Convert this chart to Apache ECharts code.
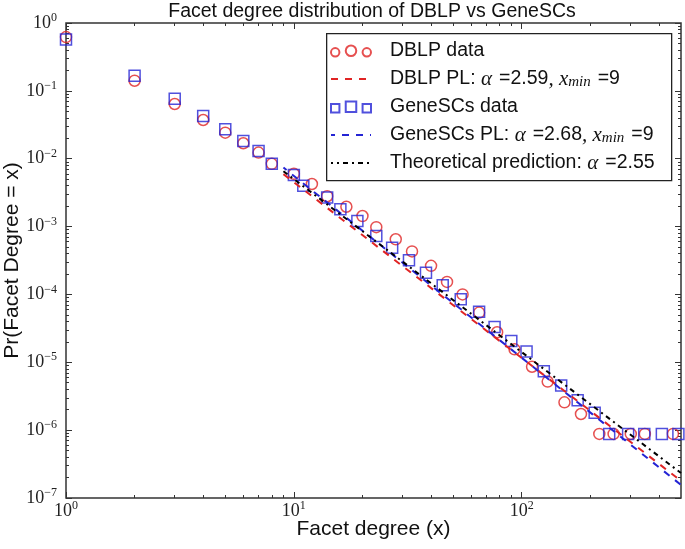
<!DOCTYPE html>
<html>
<head>
<meta charset="utf-8">
<script src="https://cdn.jsdelivr.net/npm/echarts@6/dist/echarts.min.js"></script>
<style>html,body{margin:0;padding:0;background:#fff}#c{width:685px;height:549px}</style>
</head>
<body>
<div id="c"></div>
<script>
// ---- data ----
var dblpX = [1,2,3,4,5,6,7,8,10,12,14,17,20,23,28,33,40,47,55,65,78,93,111,130,154,182,219,253,301,347,461];
var dblpY = [0.62,0.141,0.064,0.0372,0.0242,0.0169,0.0123,0.0084,0.0060,0.00424,0.0028,0.00196,0.00143,0.00098,0.00065,0.00043,0.000264,0.000153,0.0001,5.4e-5,2.77e-5,1.55e-5,8.6e-6,5.2e-6,2.57e-6,1.73e-6,8.8e-7,8.8e-7,8.8e-7,8.8e-7,8.8e-7];
var geneX = [1,2,3,4,5,6,7,8,10,11,14,16,19,23,27,32,38,45,54,65,76,90,105,125,149,176,209,242,293,345,412,487];
var geneY = [0.57,0.167,0.0767,0.0426,0.0271,0.0182,0.0130,0.00845,0.00575,0.00401,0.00268,0.0018,0.00121,0.000726,0.000489,0.000318,0.000209,0.000136,8.5e-5,5.57e-5,3.31e-5,2.06e-5,1.44e-5,7.4e-6,4.55e-6,2.75e-6,1.81e-6,8.8e-7,8.8e-7,8.8e-7,8.8e-7,8.8e-7];
var dblpPLX = [9, 500];
var dblpPLY = [0.00592, 1.79e-7];
var genePLX = [9, 500];
var genePLY = [0.0074, 1.56e-7];
var theoryX = [9, 500];
var theoryY = [0.00655, 2.33e-7];

var xMajorTicks = [1, 10, 100];
var xMinorTicks = [2,3,4,5,6,7,8,9,20,30,40,50,60,70,80,90,200,300,400];
var yMajorTicks = [1e-7,1e-6,1e-5,1e-4,1e-3,1e-2,1e-1,1];
var yDecades = [1e-7,1e-6,1e-5,1e-4,1e-3,1e-2,1e-1];
var minorMultipliers = [2,3,4,5,6,7,8,9];
var yMinorTicks = [];
yDecades.forEach(function(d){ minorMultipliers.forEach(function(m){ yMinorTicks.push(+(m*d).toPrecision(3)); }); });

var legendLabels = {
  'DBLP data': 'DBLP data',
  'DBLP PL': 'DBLP PL: {m|α}{g|}={n|2.59}{m|, x}{s|min}{g|}=9',
  'GeneSCs data': 'GeneSCs data',
  'GeneSCs PL': 'GeneSCs PL: {m|α}{g|}={n|2.68}{m|, x}{s|min}{g|}=9',
  'Theoretical': 'Theoretical prediction: {m|α}{g|}=2.55'
};

// ---- styles ----
var RED = '#e02424', BLUE = '#2424d4', AX = '#333';
var SANS = 'Liberation Sans', SERIF = 'Liberation Serif';

function pairs(xs, ys){ return xs.map(function(x,i){ return [x, ys[i]]; }); }
function expLabel(v){
  var e = Math.round(Math.log(v)/Math.LN10);
  return '{b|10}{s|' + (e < 0 ? '\u2212' + (-e) : e) + '}';
}
var tickRich = {
  b: {fontFamily: SERIF, fontSize: 18, color: '#222', lineHeight: 22},
  s: {fontFamily: SERIF, fontSize: 12, color: '#222', verticalAlign: 'top', lineHeight: 12}
};

function xAxisDef(pos, major, showLabel){
  return {
    type: 'log', logBase: 10, min: 1, max: 500, position: pos, gridIndex: 0,
    axisLine: {show: false}, splitLine: {show: false},
    axisTick: {show: true, inside: true, length: major ? 6 : 3,
               customValues: major ? xMajorTicks : xMinorTicks,
               lineStyle: {color: AX, width: 1}},
    axisLabel: showLabel ? {show: true, customValues: xMajorTicks, formatter: expLabel,
               rich: tickRich, margin: 2} : {show: false},
    name: showLabel ? 'Facet degree (x)' : '',
    nameLocation: 'middle', nameGap: 21, nameMoveOverlap: false,
    nameTextStyle: {fontFamily: SANS, fontSize: 21, color: '#111'}
  };
}
function yAxisDef(pos, major, showLabel){
  return {
    type: 'log', logBase: 10, min: 1e-7, max: 1, position: pos, gridIndex: 0,
    axisLine: {show: false}, splitLine: {show: false},
    axisTick: {show: true, inside: true, length: major ? 6 : 3,
               customValues: major ? yMajorTicks : yMinorTicks,
               lineStyle: {color: AX, width: 1}},
    axisLabel: showLabel ? {show: true, customValues: yMajorTicks, formatter: expLabel,
               rich: tickRich, margin: 9} : {show: false},
    name: showLabel ? 'Pr(Facet Degree = x)' : '',
    nameLocation: 'middle', nameGap: 43, nameMoveOverlap: false,
    nameTextStyle: {fontFamily: SANS, fontSize: 21, color: '#111'}
  };
}

var circlesIcon = 'path://M9,8C9,10.21 7.21,12 5,12C2.79,12 1,10.21 1,8C1,5.79 2.79,4 5,4C7.21,4 9,5.79 9,8Z' +
  'M25,6.5C25,9.26 22.76,11.5 20,11.5C17.24,11.5 15,9.26 15,6.5C15,3.74 17.24,1.5 20,1.5C22.76,1.5 25,3.74 25,6.5Z' +
  'M39,8C39,10.21 37.21,12 35,12C32.79,12 31,10.21 31,8C31,5.79 32.79,4 35,4C37.21,4 39,5.79 39,8Z';
var squaresIcon = 'path://M1,4L9,4L9,12L1,12Z M15,1.5L25,1.5L25,11.5L15,11.5Z M31,4L39,4L39,12L31,12Z';
var hideSym = {opacity: 0};

var chart = echarts.init(document.getElementById('c'), null, {renderer: 'canvas'});
chart.setOption({
  animation: false,
  backgroundColor: '#fff',
  title: {
    text: 'Facet degree distribution of DBLP vs GeneSCs',
    left: 372, top: 2, padding: 0, textAlign: 'center',
    textStyle: {fontFamily: SANS, fontSize: 19.5, fontWeight: 'normal', color: '#111'}
  },
  grid: {left: 66, top: 23, right: 4, bottom: 51, outerBoundsMode: 'none', containLabel: false,
         show: true, borderColor: AX, borderWidth: 1.5, backgroundColor: 'transparent'},
  xAxis: [xAxisDef('bottom', true, true), xAxisDef('bottom', false, false), xAxisDef('top', true, false), xAxisDef('top', false, false)],
  yAxis: [yAxisDef('left', true, true), yAxisDef('left', false, false), yAxisDef('right', true, false), yAxisDef('right', false, false)],
  // legend frame (decoration only)
  graphic: [{
    type: 'rect', left: 326, top: 33, z: 5,
    shape: {width: 345, height: 147},
    style: {fill: '#fff', stroke: '#222', lineWidth: 1.3}
  }],
  legend: {
    orient: 'vertical', left: 326, top: 33, padding: [7, 10, 6, 4], itemGap: 6,
    itemWidth: 40, itemHeight: 14, z: 6,
    borderWidth: 0, backgroundColor: 'transparent',
    data: [
      {name: 'DBLP data', icon: circlesIcon},
      {name: 'DBLP PL', itemStyle: hideSym},
      {name: 'GeneSCs data', icon: squaresIcon},
      {name: 'GeneSCs PL', itemStyle: hideSym},
      {name: 'Theoretical', itemStyle: hideSym}
    ],
    formatter: function(n){ return '{p|}' + legendLabels[n]; },
    textStyle: {
      fontFamily: SANS, fontSize: 19.5, color: '#111', lineHeight: 22,
      rich: {
        p: {width: 14, lineHeight: 22},
        g: {width: 7, lineHeight: 22},
        n: {fontFamily: SANS, fontSize: 19.5, color: '#111', lineHeight: 22},
        m: {fontFamily: SERIF, fontStyle: 'italic', fontSize: 21, color: '#111', lineHeight: 22},
        s: {fontFamily: SERIF, fontStyle: 'italic', fontSize: 15, color: '#111', verticalAlign: 'bottom', lineHeight: 14}
      }
    }
  },
  series: [
    {name: 'DBLP data', type: 'scatter', xAxisIndex: 0, yAxisIndex: 0, data: pairs(dblpX, dblpY),
     symbol: 'circle', symbolSize: 11,
     itemStyle: {color: 'rgba(255,255,255,0)', borderColor: RED, borderWidth: 1.5}},
    {name: 'DBLP PL', type: 'line', xAxisIndex: 0, yAxisIndex: 0, data: pairs(dblpPLX, dblpPLY),
     symbol: 'none', showSymbol: false,
     lineStyle: {color: RED, width: 2, type: [7, 7]}, itemStyle: {color: RED}},
    {name: 'GeneSCs data', type: 'scatter', xAxisIndex: 0, yAxisIndex: 0, data: pairs(geneX, geneY),
     symbol: 'rect', symbolSize: 11,
     itemStyle: {color: 'rgba(255,255,255,0)', borderColor: BLUE, borderWidth: 1.5}},
    {name: 'GeneSCs PL', type: 'line', xAxisIndex: 0, yAxisIndex: 0, data: pairs(genePLX, genePLY),
     symbol: 'none', showSymbol: false,
     lineStyle: {color: BLUE, width: 2, type: [7, 7], dashOffset: 3}, itemStyle: {color: BLUE}},
    {name: 'Theoretical', type: 'line', xAxisIndex: 0, yAxisIndex: 0, data: pairs(theoryX, theoryY),
     symbol: 'none', showSymbol: false,
     lineStyle: {color: '#000', width: 2, type: [5, 4, 2, 4]}, itemStyle: {color: '#000'}}
  ]
});
</script>
</body>
</html>
